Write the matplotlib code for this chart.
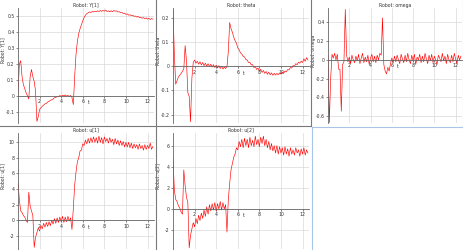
import numpy as np
import matplotlib
matplotlib.use('Agg')
import matplotlib.pyplot as plt
from matplotlib.lines import Line2D
from matplotlib.transforms import offset_copy

# sample clock of the simulation (s)
t = np.round(np.arange(101) * 0.125, 3)

# Robot: Y[1]
y1 = [0.01, 0.2, 0.22, 0.12, 0.07, 0.045, 0.02, 0.0, -0.02, 0.12,
      0.165, 0.12, 0.09, 0.03, -0.16, -0.13, -0.085, -0.075, -0.065, -0.058,
      -0.05, -0.048, -0.038, -0.035, -0.028, -0.024, -0.02, -0.012, -0.01, -0.004,
      -0.006, 0.002, -0.003, 0.004, 0.0, 0.006, -0.002, 0.003, -0.004, 0.002,
      -0.01, -0.055, 0.12, 0.26, 0.34, 0.39, 0.42, 0.445, 0.47, 0.49,
      0.505, 0.515, 0.52, 0.525, 0.522, 0.528, 0.525, 0.53, 0.527, 0.532,
      0.528, 0.534, 0.529, 0.535, 0.53, 0.537, 0.528, 0.532, 0.526, 0.533,
      0.527, 0.534, 0.53, 0.532, 0.525, 0.527, 0.52, 0.522, 0.515, 0.518,
      0.51, 0.513, 0.505, 0.508, 0.502, 0.505, 0.498, 0.5, 0.493, 0.497,
      0.49, 0.492, 0.486, 0.49, 0.483, 0.488, 0.48, 0.485, 0.478, 0.484, 0.48]

# Robot: theta
theta = [0.235, 0.05, -0.075, -0.06, -0.045, -0.038, -0.03, -0.022, -0.012, 0.085,
         0.02, -0.11, -0.125, -0.23, -0.05, 0.015, 0.025, 0.012, 0.02, 0.008,
         0.018, 0.005, 0.015, 0.002, 0.012, 0.0, 0.01, -0.002, 0.008, -0.004,
         0.006, -0.006, 0.004, -0.008, 0.002, -0.01, 0.0, -0.012, -0.004, -0.01,
         -0.002, 0.06, 0.18, 0.155, 0.14, 0.12, 0.105, 0.095, 0.075, 0.068,
         0.055, 0.05, 0.04, 0.038, 0.027, 0.025, 0.015, 0.016, 0.005, 0.006,
         -0.006, -0.002, -0.014, -0.008, -0.02, -0.013, -0.026, -0.018, -0.03, -0.022,
         -0.034, -0.025, -0.036, -0.028, -0.038, -0.03, -0.037, -0.03, -0.036, -0.028,
         -0.033, -0.025, -0.03, -0.02, -0.024, -0.014, -0.016, -0.006, -0.008, 0.002,
         0.0, 0.01, 0.006, 0.016, 0.012, 0.02, 0.015, 0.03, 0.02, 0.035, 0.025]

# Robot: omega
omega = [0.05, -0.67, -0.2, 0.06, 0.02, 0.07, 0.0, 0.06, -0.1, -0.1,
         -0.55, -0.05, -0.02, 0.54, 0.05, -0.02, 0.03, -0.04, 0.05, 0.0,
         -0.03, 0.04, -0.01, 0.06, -0.04, 0.02, 0.07, -0.03, 0.03, -0.02,
         0.05, -0.05, 0.02, 0.06, -0.02, 0.04, -0.03, 0.05, 0.0, 0.07,
         0.05, 0.45, -0.05, -0.12, -0.15, -0.08, -0.12, -0.04, 0.02, -0.03,
         0.04, -0.02, 0.05, 0.0, -0.04, 0.06, 0.01, -0.03, 0.05, -0.02,
         0.07, 0.0, -0.04, 0.05, -0.01, 0.06, -0.05, 0.03, 0.0, 0.06,
         -0.03, 0.04, -0.02, 0.07, 0.01, -0.04, 0.05, -0.01, 0.06, -0.03,
         0.04, 0.0, -0.05, 0.05, 0.02, -0.02, 0.07, -0.01, 0.04, -0.04,
         0.06, 0.0, -0.03, 0.05, -0.02, 0.07, 0.01, -0.04, 0.05, 0.0, 0.04]

# Robot: u[1]
u1 = [4.9, 2.6, 1.2, 1.0, 0.6, 0.4, 0.0, -0.3, 3.6, 1.8,
      1.2, 0.6, -3.5, -2.2, -1.6, -1.0, -1.4, -0.7, -1.1, -0.4,
      -0.9, -0.3, -0.8, -0.2, -0.7, 0.0, -0.5, 0.2, -0.4, 0.3,
      -0.3, 0.4, -0.2, 0.5, -0.3, 0.4, -0.2, 0.5, -0.1, 0.3,
      -1.2, 1.5, 4.5, 6.2, 7.5, 8.0, 8.9, 9.0, 9.8, 9.6,
      10.3, 9.8, 10.5, 9.9, 10.6, 10.0, 10.7, 10.0, 10.6, 9.9,
      10.8, 10.0, 10.6, 9.8, 10.7, 10.1, 10.5, 9.9, 10.6, 10.0,
      10.4, 9.7, 10.5, 9.8, 10.3, 9.6, 10.2, 9.6, 10.1, 9.4,
      10.0, 9.4, 10.0, 9.3, 9.9, 9.2, 9.8, 9.3, 9.7, 9.1,
      9.8, 9.2, 9.6, 9.0, 9.7, 9.1, 9.6, 9.2, 9.9, 9.1, 9.5]

# Robot: u[2]
u2 = [4.8, 1.8, 0.9, 0.7, 0.3, 0.1, -0.3, -0.5, 3.7, 2.2,
      1.1, 0.6, -3.7, -2.5, -1.9, -1.3, -1.7, -0.9, -1.4, -0.6,
      -1.1, -0.4, -0.9, -0.1, -0.7, 0.2, -0.5, 0.4, -0.2, 0.5,
      -0.1, 0.6, -0.2, 0.5, 0.0, 0.7, -0.1, 0.6, 0.0, 0.4,
      -2.2, 0.9, 2.4, 3.7, 4.3, 4.9, 5.2, 5.8, 5.6, 6.4,
      5.9, 6.6, 5.8, 6.7, 6.0, 6.6, 5.8, 6.8, 6.0, 6.5,
      5.9, 6.9, 6.1, 6.6, 5.9, 6.8, 6.2, 6.9, 6.0, 6.6,
      5.8, 6.4, 5.6, 6.2, 5.5, 6.0, 5.3, 6.0, 5.2, 5.9,
      5.3, 5.8, 5.1, 5.9, 5.2, 5.7, 5.0, 5.8, 5.2, 5.6,
      5.1, 5.8, 5.3, 5.6, 5.0, 5.7, 5.2, 5.8, 5.1, 5.6, 5.3]

names = ['Robot: Y[1]', 'Robot: theta', 'Robot: omega', 'Robot: u[1]', 'Robot: u[2]']
series = [y1, theta, omega, u1, u2]
ylims = [(-0.17, 0.55), (-0.235, 0.24), (-0.675, 0.555), (-3.7, 11.2), (-3.8, 7.2)]
yticks = [[-0.1, 0, 0.1, 0.2, 0.3, 0.4, 0.5],
          [-0.2, -0.1, 0, 0.1, 0.2],
          [-0.6, -0.4, -0.2, 0, 0.2, 0.4],
          [-2, 0, 2, 4, 6, 8, 10],
          [-2, 0, 2, 4, 6]]
xticks = [2, 4, 6, 8, 10, 12]

W, H = 464, 250
fig = plt.figure(figsize=(W / 100, H / 100), dpi=100)

# panel boxes in pixels: left, right, top, bottom
boxes = [(18, 154, 8, 123), (173, 309, 8, 123), (328, 462, 8, 123),
         (18, 154, 133, 249), (173, 309, 133, 249)]

fs = 3.3
for name, vals, yl, yt, (l, r, tp, b) in zip(names, series, ylims, yticks, boxes):
    ax = fig.add_axes([l / W, 1 - b / H, (r - l) / W, (b - tp) / H])
    ax.plot(t, vals, color='red', lw=0.45)
    ax.set_xlim(0, 12.6)
    ax.set_ylim(*yl)
    ax.set_xticks(xticks)
    ax.set_yticks(yt)
    ax.set_yticklabels([('%g' % v) for v in yt])
    ax.grid(True, color='#d9d9d9', lw=0.5)
    ax.set_axisbelow(True)
    for s in ['top', 'right']:
        ax.spines[s].set_visible(False)
    ax.spines['bottom'].set_position(('data', 0))
    ax.spines['bottom'].set_color('#666666')
    ax.spines['left'].set_color('#666666')
    ax.spines['bottom'].set_linewidth(0.6)
    ax.spines['left'].set_linewidth(0.6)
    ax.tick_params(labelsize=fs, length=1.5, width=0.4, pad=1, colors='#333333')
    # axis name sits just under the tick labels, right of the "6"
    ax.text(6.6, 0, 't', fontsize=fs, va='top', ha='center', color='#333333',
            transform=offset_copy(ax.transData, fig=fig, y=-4.5, units='dots'))
    ax.set_title(name, fontsize=fs, pad=1, color='#333333')
    ax.set_ylabel(name, fontsize=fs, color='#333333')
    ax.yaxis.set_label_coords(-0.09, 0.63)

# panel separators
fig.add_artist(Line2D([156 / W, 156 / W], [0, 1], color='#7a7a7a', lw=0.8))
fig.add_artist(Line2D([311 / W, 311 / W], [1 - 126 / H, 1], color='#7a7a7a', lw=0.8))
fig.add_artist(Line2D([0, 311 / W], [1 - 126 / H, 1 - 126 / H], color='#7a7a7a', lw=0.8))
# empty cell outline
fig.add_artist(Line2D([312 / W, 312 / W], [0, 1 - 127 / H], color='#a9c4e6', lw=0.8))
fig.add_artist(Line2D([312 / W, 1], [1 - 127 / H, 1 - 127 / H], color='#a9c4e6', lw=0.8))
fig.add_artist(Line2D([463.5 / W, 463.5 / W], [1 - 127 / H, 1], color='#a9c4e6', lw=0.8))

fig.savefig('out.png', dpi=100)
